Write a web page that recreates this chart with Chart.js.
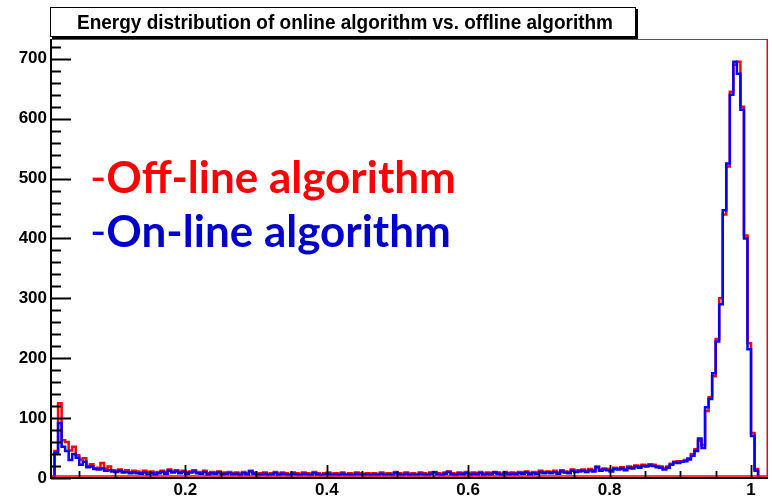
<!DOCTYPE html>
<html>
<head>
<meta charset="utf-8">
<script src="https://cdn.jsdelivr.net/npm/chart.js@4.4.0/dist/chart.umd.min.js"></script>
<style>
  html, body { margin: 0; padding: 0; background: #fff; }
  #wrap { position: relative; width: 772px; height: 501px; }
  #histo { position: absolute; left: 0; top: 0; }
  #title {
    position: absolute; left: 50px; top: 7px; width: 584px; height: 28px;
    border: 1.5px solid #000; box-shadow: 2px 2px 0 #000; background: #fff;
    overflow: hidden;
  }
  #title span {
    position: absolute; left: 26px; top: 0; white-space: nowrap;
    font-family: "Liberation Sans", Arial, sans-serif; font-weight: 700;
    font-size: 21px; line-height: 28px; color: #000;
    transform-origin: 0 50%;
  }
  .lbl {
    position: absolute; left: 90px; white-space: nowrap;
    font-family: Lato, "Open Sans", sans-serif; font-weight: 700;
    font-size: 44px; line-height: 44px;
  }
  .lbl .dash { font-weight: 400; }
</style>
</head>
<body>
<div id="wrap">
  <canvas id="histo" width="772" height="501"></canvas>
  <div id="title"><span>Energy distribution of online algorithm vs. offline algorithm</span></div>
  <div class="lbl" style="top:154px;color:#ff0000"><span class="dash">-</span>Off-line algorithm</div>
  <div class="lbl" style="top:208px;color:#0000cc"><span class="dash">-</span>On-line algorithm</div>
</div>
<script>
(function () {
  "use strict";

  // histogram binning (0.005 wide bins starting at 0.01)
  const binStart = 0.01;
  const binWidth = 0.005;

  // Off-line algorithm (red)
  const offlineCounts = [
    0, 45, 125, 63, 60, 46, 52, 38, 31, 33, 20, 23, 16, 17, 25, 16, 19, 13, 12, 14,
    11, 13, 10, 12, 11, 9, 12, 10, 11, 9,
    10, 12, 9, 14, 11, 13, 10, 12, 9, 11,
    13, 10, 9, 12, 8, 10, 9, 11, 8, 9,
    10, 8, 9, 7, 10, 8, 12, 9, 7, 8,
    9, 7, 8, 10, 7, 9, 8, 6, 9, 8,
    7, 9, 8, 7, 10, 8, 6, 8, 9, 7,
    8, 7, 9, 6, 8, 7, 9, 8, 6, 8,
    7, 8, 6, 9, 7, 8, 7, 10, 8, 7,
    9, 7, 8, 6, 9, 8, 7, 9, 10, 8,
    7, 9, 11, 8, 7, 9, 8, 10, 7, 9,
    8, 10, 7, 9, 8, 10, 9, 7, 10, 8,
    9, 8, 10, 9, 11, 8, 10, 9, 12, 10,
    11, 10, 12, 9, 13, 11, 10, 14, 12, 13,
    14, 12, 15, 13, 19, 14, 16, 15, 13, 17,
    16, 18, 15, 19, 18, 21, 19, 22, 21, 23,
    22, 20, 19, 16, 19, 24, 27, 28, 27, 30, 33, 40, 48, 62, 55, 112,
    135, 170, 232, 300, 440, 520, 645, 690, 695, 620, 405, 225, 75, 15, 0, 0
  ];

  // On-line algorithm (blue)
  const onlineCounts = [
    0, 42, 92, 52, 45, 30, 40, 34, 22, 27, 18, 19, 15, 14, 16, 12, 13, 11, 10, 12,
    9, 10, 8, 9, 8, 7, 9, 6, 8, 6,
    8, 10, 7, 12, 9, 11, 8, 10, 7, 9,
    11, 8, 7, 10, 6, 8, 7, 9, 6, 7,
    8, 6, 7, 5, 8, 6, 11, 7, 5, 6,
    7, 5, 6, 8, 5, 7, 6, 5, 7, 6,
    5, 7, 6, 5, 8, 6, 5, 6, 7, 5,
    6, 5, 7, 5, 6, 5, 7, 6, 5, 6,
    5, 6, 5, 7, 5, 6, 5, 8, 6, 5,
    7, 5, 6, 5, 7, 6, 5, 7, 9, 6,
    5, 7, 10, 6, 5, 7, 6, 8, 5, 7,
    6, 8, 5, 7, 6, 9, 7, 5, 8, 6,
    7, 6, 8, 7, 9, 6, 8, 7, 10, 8,
    9, 8, 10, 7, 11, 9, 8, 12, 10, 11,
    12, 10, 13, 11, 18, 12, 14, 13, 11, 15,
    14, 16, 13, 17, 16, 19, 17, 20, 19, 21,
    20, 18, 17, 14, 17, 22, 26, 25, 27, 28, 31, 37, 45, 66, 50, 118,
    132, 175, 228, 290, 447, 525, 640, 695, 675, 615, 400, 215, 70, 12, 0, 0
  ];

  const xTickLabels = [0.2, 0.4, 0.6, 0.8, 1];
  const yTickLabels = [0, 100, 200, 300, 400, 500, 600, 700];
  const xMinorStep = 0.05;
  const yMinorStep = 20;

  // squeeze the title to the narrow look of the original
  const titleSpan = document.querySelector("#title span");
  const titleW = titleSpan.getBoundingClientRect().width;
  titleSpan.style.transform = "scaleX(" + (536 / titleW) + ")";

  // turn bin contents into step points at the bin edges
  function toSteps(counts) {
    const pts = counts.map((c, i) => ({ x: binStart + i * binWidth, y: c }));
    pts.push({ x: binStart + counts.length * binWidth, y: 0 });
    return pts;
  }

  const tickFont = { family: "'Liberation Sans', Arial, sans-serif", size: 17, weight: "bold" };

  // ROOT-like frame: inward ticks, red right edge
  const framePlugin = {
    id: "rootFrame",
    afterDraw(chart) {
      const ctx = chart.ctx;
      const a = chart.chartArea;
      const xs = chart.scales.x;
      const ys = chart.scales.y;
      ctx.save();
      ctx.lineCap = "butt";

      ctx.strokeStyle = "#555";
      ctx.lineWidth = 1;
      ctx.beginPath();
      ctx.moveTo(a.left, a.top + 0.5);
      ctx.lineTo(a.right, a.top + 0.5);
      ctx.stroke();

      ctx.strokeStyle = "#ff0000";
      ctx.lineWidth = 1.5;
      ctx.beginPath();
      ctx.moveTo(a.right - 0.75, a.top);
      ctx.lineTo(a.right - 0.75, a.bottom);
      ctx.moveTo(a.left, a.bottom - 2);
      ctx.lineTo(a.right, a.bottom - 2);
      ctx.stroke();

      ctx.strokeStyle = "#000";
      ctx.lineWidth = 2;
      ctx.beginPath();
      ctx.moveTo(a.left, a.top);
      ctx.lineTo(a.left, a.bottom + 1);
      ctx.moveTo(a.left - 1, a.bottom);
      ctx.lineTo(a.right, a.bottom);
      ctx.stroke();

      ctx.lineWidth = 1.8;
      ctx.beginPath();
      for (let v = 0; v <= ys.max; v += yMinorStep) {
        const py = Math.round(ys.getPixelForValue(v)) + 0.5;
        const len = v % 100 === 0 ? 20 : 10;
        ctx.moveTo(a.left, py);
        ctx.lineTo(a.left + len, py);
      }
      for (let i = 1; i * xMinorStep <= xs.max; i++) {
        const v = i * xMinorStep;
        if (v < xs.min) continue;
        const px = Math.round(xs.getPixelForValue(v)) + 0.5;
        const len = i % 4 === 0 ? 13 : 7;
        ctx.moveTo(px, a.bottom);
        ctx.lineTo(px, a.bottom - len);
      }
      ctx.stroke();
      ctx.restore();
    }
  };

  const canvas = document.getElementById("histo");
  new Chart(canvas.getContext("2d"), {
    type: "line",
    data: {
      datasets: [
        {
          label: "On-line algorithm",
          data: toSteps(onlineCounts),
          borderColor: "#0000ff",
          borderWidth: 2.5,
          stepped: true,
          pointRadius: 0,
          fill: false,
          order: 0
        },
        {
          label: "Off-line algorithm",
          data: toSteps(offlineCounts),
          borderColor: "#ff0000",
          borderWidth: 2.5,
          stepped: true,
          pointRadius: 0,
          fill: false,
          order: 1
        }
      ]
    },
    options: {
      responsive: false,
      animation: false,
      devicePixelRatio: 1,
      layout: { padding: { top: 39, right: 4, left: 0, bottom: 0 } },
      plugins: {
        legend: { display: false },
        title: { display: false },
        tooltip: { enabled: false }
      },
      scales: {
        x: {
          type: "linear",
          min: 0.01,
          max: 1.024,
          grid: { display: false, drawTicks: false },
          border: { display: false },
          afterBuildTicks: (s) => { s.ticks = xTickLabels.map((v) => ({ value: v })); },
          afterFit: (s) => { s.height = 23; },
          ticks: {
            color: "#000",
            font: tickFont,
            padding: 2,
            maxRotation: 0,
            autoSkip: false,
            callback: (v) => String(v)
          }
        },
        y: {
          min: 0,
          max: 733,
          grid: { display: false, drawTicks: false },
          border: { display: false },
          afterBuildTicks: (s) => { s.ticks = yTickLabels.map((v) => ({ value: v })); },
          afterFit: (s) => { s.width = 51; },
          ticks: {
            color: "#000",
            font: tickFont,
            padding: 4,
            autoSkip: false,
            callback: (v) => String(v)
          }
        }
      }
    },
    plugins: [framePlugin]
  });
})();
</script>
</body>
</html>
